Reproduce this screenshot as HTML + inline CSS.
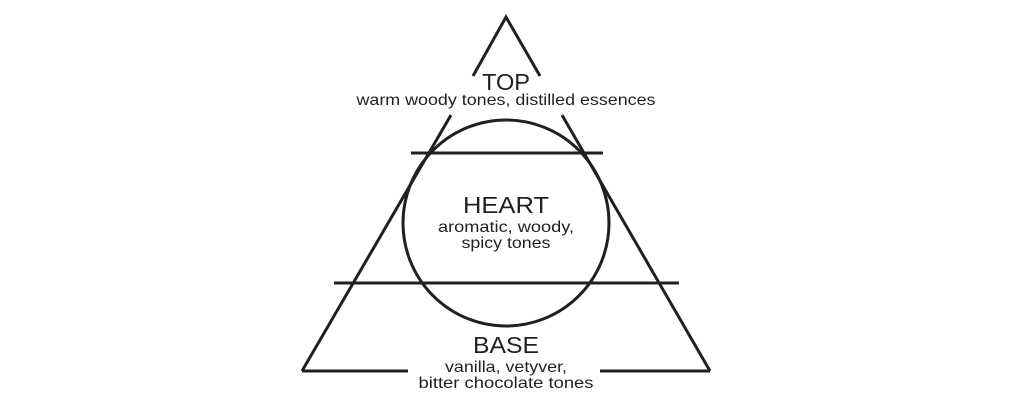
<!DOCTYPE html>
<html><head><meta charset="utf-8"><style>
html,body{margin:0;padding:0;background:#fff;width:1024px;height:419px;overflow:hidden}
text{font-family:"Liberation Sans",sans-serif;fill:#231f20;text-anchor:middle}
</style></head><body>
<svg width="1024" height="419" viewBox="0 0 1024 419" xmlns="http://www.w3.org/2000/svg">
<g stroke="#231f20" stroke-width="3" fill="none">
<polyline points="473,76 506,17 540,76"/>
<line x1="451" y1="115" x2="302" y2="371"/>
<line x1="562" y1="115" x2="710" y2="371"/>
<line x1="302" y1="371" x2="408" y2="371"/>
<line x1="600" y1="371" x2="710" y2="371"/>
<line x1="411" y1="153" x2="603" y2="153"/>
<line x1="334" y1="283" x2="679" y2="283"/>
<circle cx="506" cy="223" r="103"/>
</g>
<text x="506" y="90" font-size="23" textLength="48" lengthAdjust="spacingAndGlyphs">TOP</text>
<text x="506" y="105" font-size="16" textLength="299" lengthAdjust="spacingAndGlyphs">warm woody tones, distilled essences</text>
<text x="506" y="213" font-size="23" textLength="86" lengthAdjust="spacingAndGlyphs">HEART</text>
<text x="506" y="232" font-size="16" textLength="136" lengthAdjust="spacingAndGlyphs">aromatic, woody,</text>
<text x="506" y="248" font-size="16" textLength="89" lengthAdjust="spacingAndGlyphs">spicy tones</text>
<text x="506" y="353" font-size="23" textLength="66" lengthAdjust="spacingAndGlyphs">BASE</text>
<text x="506" y="372" font-size="16" textLength="122" lengthAdjust="spacingAndGlyphs">vanilla, vetyver,</text>
<text x="506" y="388" font-size="16" textLength="175" lengthAdjust="spacingAndGlyphs">bitter chocolate tones</text>
</svg>
</body></html>
